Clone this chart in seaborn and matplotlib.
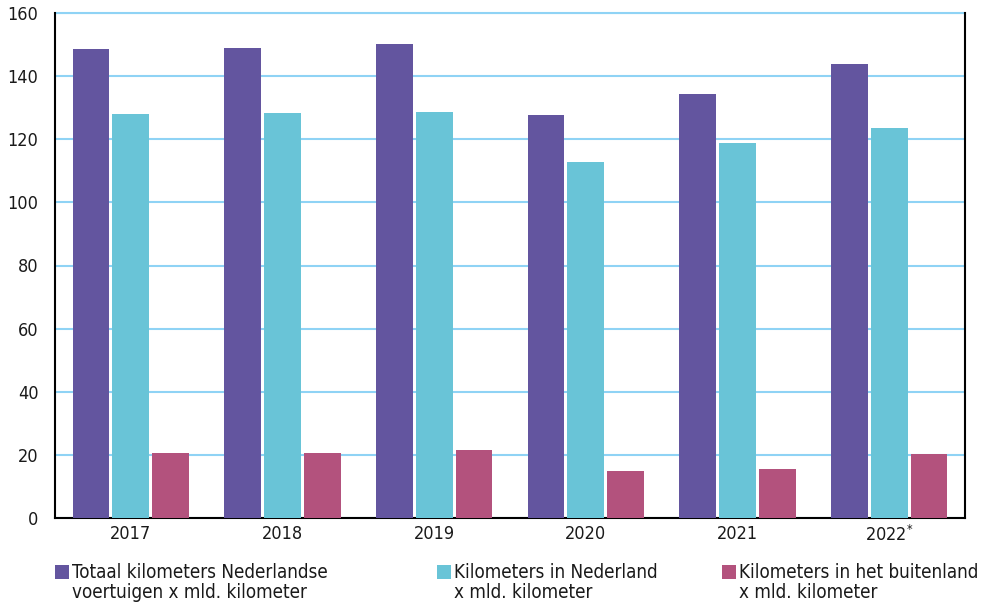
import matplotlib
matplotlib.use("Agg")
import matplotlib.pyplot as plt
import seaborn as sns
import pandas as pd
from matplotlib.patches import Rectangle

years = ["2017", "2018", "2019", "2020", "2021", "2022$^{*}$"]
totaal = [148.6, 148.9, 150.2, 127.7, 134.3, 143.9]
nederland = [128.0, 128.3, 128.6, 112.8, 118.8, 123.6]
buitenland = [20.6, 20.6, 21.5, 14.9, 15.5, 20.3]
series = ["Totaal kilometers Nederlandse\nvoertuigen x mld. kilometer",
          "Kilometers in Nederland\nx mld. kilometer",
          "Kilometers in het buitenland\nx mld. kilometer"]
colors = ["#63559f", "#69c4d7", "#b3527d"]

rows = []
for i, y in enumerate(years):
    for s, vals in zip(series, [totaal, nederland, buitenland]):
        rows.append({"jaar": y, "serie": s, "waarde": vals[i]})
df = pd.DataFrame(rows)

sns.set_style("white")
plt.rcParams['font.family'] = ['DejaVu Sans']
plt.rcParams['font.stretch'] = 'condensed'
plt.rcParams['mathtext.fontset'] = 'custom'

fig = plt.figure(figsize=(9.97, 6.03), dpi=100)
ax = fig.add_axes([55/997, 1-518/603, (965-55)/997, (518-13)/603])

sns.barplot(data=df, x="jaar", y="waarde", hue="serie", palette=colors,
            width=0.79, gap=0.08, saturation=1, ax=ax, legend=False,
            linewidth=0, zorder=3)

ax.set_ylim(0, 160)
ax.set_xlim(-0.5, 5.5)
ax.set_yticks(range(0, 161, 20))
ax.yaxis.grid(True, color="#8fd3f5", linewidth=1.5, zorder=0)
ax.axhline(160, color="#8fd3f5", linewidth=1.5, clip_on=False, zorder=0)
ax.set_axisbelow(True)
ax.set_xlabel("")
ax.set_ylabel("")
for side in ["left", "bottom", "right"]:
    ax.spines[side].set_visible(True)
    ax.spines[side].set_color("black")
    ax.spines[side].set_linewidth(1.5)
ax.spines["top"].set_visible(False)
ax.tick_params(axis="both", length=0, labelsize=13, colors="#1a1a1a")
ax.tick_params(axis="y", pad=12)
ax.tick_params(axis="x", pad=5)

xs = [55, 437, 722]
for x, s, c in zip(xs, series, colors):
    fig.patches.append(Rectangle((x/997, 1-579/603), 14/997, 14/603,
                                 transform=fig.transFigure, facecolor=c,
                                 edgecolor="none"))
    fig.text((x+17)/997, 1-563/603, s, fontsize=13.5, va="top", ha="left",
             linespacing=1.1, color="#1a1a1a")

fig.savefig("out.png", dpi=100)
